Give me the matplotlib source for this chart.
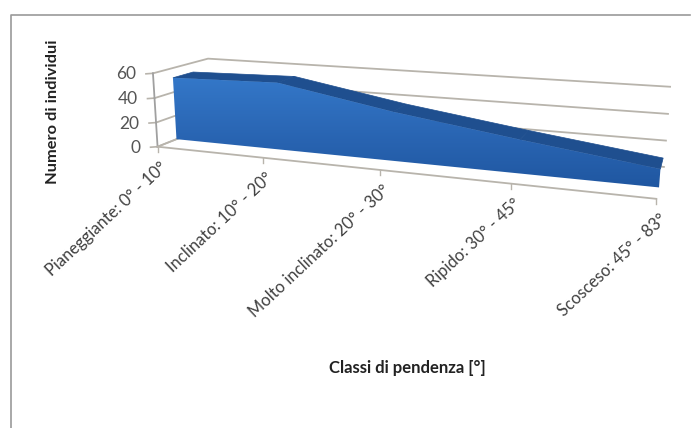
import numpy as np
import matplotlib
matplotlib.use('Agg')
import matplotlib.pyplot as plt
from matplotlib.colors import LinearSegmentedColormap
from matplotlib.patches import Polygon

categories = ['Pianeggiante: 0° - 10°', 'Inclinato: 10° - 20°', 'Molto inclinato: 20° - 30°',
              'Ripido: 30° - 45°', 'Scosceso: 45° - 83°']
values = [52, 54, 38, 25, 13]
y_ticks = [0, 20, 40, 60]

plt.rcParams['font.family'] = ['Lato', 'DejaVu Sans']

# camera fitted on where the box corners sit in the picture: (cat, value, depth) -> (px, py)
anchors = [((0, 0, 0), (158, 147)), ((0, 60, 0), (153, 73)), ((4, 0, 0), (657, 197)),
           ((1, 0, 0), (263, 158)), ((2, 0, 0), (380, 171)), ((3, 0, 0), (510, 184)),
           ((0, 60, 1), (208, 58)), ((4, 60, 1), (670, 88)), ((4, 40, 1), (668, 114)),
           ((4, 20, 1), (666, 140))]
rows = []
rhs = []
for (c, v, d), (px, py) in anchors:
    rows.append([c, v, d, 1, 0, 0, 0, 0, -px * c, -px * v, -px * d])
    rows.append([0, 0, 0, 0, c, v, d, 1, -py * c, -py * v, -py * d])
    rhs += [px, py]
cam = np.append(np.linalg.lstsq(np.array(rows, float), np.array(rhs, float), rcond=None)[0], 1).reshape(3, 4)


def project(c, v, d):
    p = cam @ np.array([c, v, d, 1.0])
    return p[0] / p[2], p[1] / p[2]


fig = plt.figure(figsize=(7, 4.28), dpi=100)
ax = fig.add_axes([0, 0, 1, 1])
ax.set_xlim(0, 700)
ax.set_ylim(428, 0)
ax.axis('off')

# chart frame
ax.plot([10.5, 10.5, 690], [428, 15, 15], color='#9a9a9a', lw=1.2)

wall = '#b8b4ac'
n = len(categories) - 1
for t in y_ticks:
    ax.plot(*zip(project(0, t, 0), project(0, t, 1), project(n, t, 1)), color=wall, lw=1.3, zorder=1)
    x, y = project(0, t, 0)
    ax.plot([x - 7, x], [y + 0.5, y], color=wall, lw=1.2, zorder=1)
    ax.text(x - 17, y + 1, str(t), ha='right', va='center', fontsize=12.5, color='#555555')
ax.plot(*zip(project(0, 0, 0), project(0, 60, 0)), color='#a0a0a0', lw=1.3, zorder=1)
ax.plot(*zip(project(0, 0, 0), project(n, 0, 0)), color=wall, lw=1.3, zorder=1)
ax.plot(*zip(project(0, 0, 0), project(0, 0, 1)), color=wall, lw=1.2, zorder=1)

for i, name in enumerate(categories):
    x, y = project(i, 0, 0)
    ax.plot([x, x], [y, y + 5], color=wall, lw=1.0, zorder=1)
    ax.text(x + 2, y + 12, name, rotation=43, rotation_mode='anchor', ha='right', va='top',
            fontsize=11.9, color='#404040')

# area: top faces then gradient front
d0, d1 = 0.33, 0.70
for i in range(n):
    top = [project(i, values[i], d0), project(i + 1, values[i + 1], d0),
           project(i + 1, values[i + 1], d1), project(i, values[i], d1)]
    ax.add_patch(Polygon(top, closed=True, fc='#1f4f8f', ec='#1f4f8f', lw=0.5, zorder=2))

front = [project(i, values[i], d0) for i in range(n + 1)]
front += [project(i, 0, d0) for i in range(n, -1, -1)]
cmap = LinearSegmentedColormap.from_list('face', ['#3478c9', '#2a66b4', '#1f56a0'])
im = ax.imshow(np.linspace(0, 1, 128).reshape(-1, 1), cmap=cmap, aspect='auto',
               extent=(160, 670, 190, 75), zorder=3)
clip = Polygon(front, closed=True, transform=ax.transData, fc='none', ec='none')
ax.add_patch(clip)
im.set_clip_path(clip)
ax.set_xlim(0, 700)
ax.set_ylim(428, 0)

ax.text(53, 112, 'Numero di individui', rotation=90, ha='center', va='center',
        fontsize=11.8, fontweight='bold', color='#222222')
ax.text(407, 368, 'Classi di pendenza [°]', ha='center', va='center',
        fontsize=12, fontweight='bold', color='#222222')

fig.savefig('out.png', dpi=100)
